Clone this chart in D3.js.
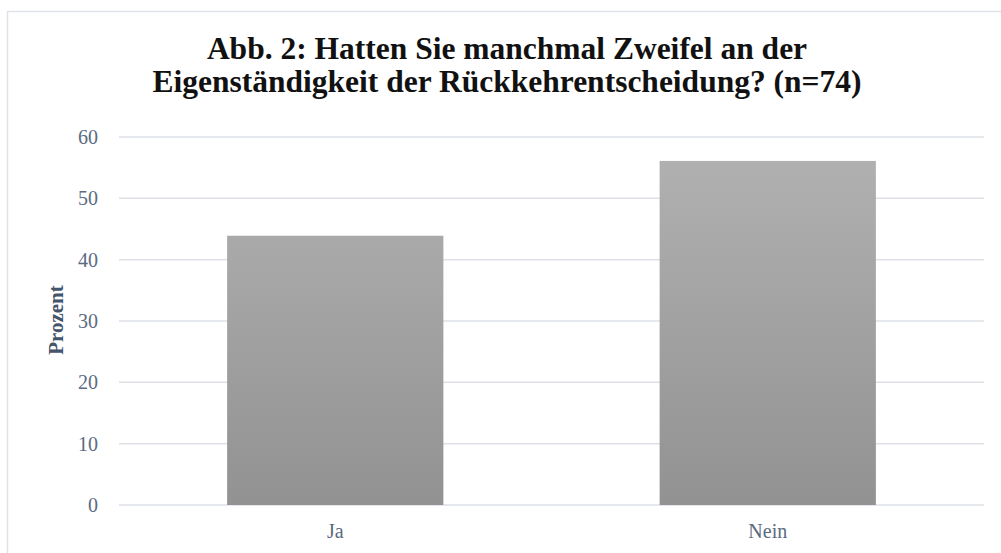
<!DOCTYPE html>
<html>
<head>
<meta charset="utf-8">
<script src="https://cdn.jsdelivr.net/npm/d3@7.9.0/dist/d3.min.js"></script>
<style>
  body { margin: 0; background: #fff; }
  svg { display: block; }
</style>
</head>
<body>
<div id="chart"></div>
<script>
// data
const categories = ['Ja', 'Nein'];
const values = [43.9, 56.1];
const yTicks = [0, 10, 20, 30, 40, 50, 60];
const titleLines = [
  'Abb. 2: Hatten Sie manchmal Zweifel an der',
  'Eigenständigkeit der Rückkehrentscheidung? (n=74)'
];
const yLabel = 'Prozent';

const width = 1001, height = 553;
const plot = { left: 119, right: 984, top: 137, bottom: 505 };
const serif = '"Liberation Serif", "DejaVu Serif", serif';

const svg = d3.select('#chart').append('svg')
  .attr('width', width)
  .attr('height', height);

// chart frame (runs past the right and bottom edge)
svg.append('rect')
  .attr('x', 7.5).attr('y', 11.5)
  .attr('width', 1000).attr('height', 560)
  .attr('fill', '#fff')
  .attr('stroke', '#dfe3e8')
  .attr('stroke-width', 1.5);

const x = d3.scaleBand()
  .domain(categories)
  .range([plot.left, plot.right])
  .paddingInner(0.5)
  .paddingOuter(0.25);

const y = d3.scaleLinear()
  .domain([0, 60])
  .range([plot.bottom, plot.top]);

const defs = svg.append('defs');
const grad = defs.append('linearGradient')
  .attr('id', 'barGrad')
  .attr('gradientUnits', 'userSpaceOnUse')
  .attr('x1', 0).attr('x2', 0)
  .attr('y1', y(56.1)).attr('y2', y(0));
grad.append('stop').attr('offset', 0).attr('stop-color', '#b0b0b0');
grad.append('stop').attr('offset', 1).attr('stop-color', '#929292');

// gridlines
svg.append('g')
  .selectAll('line')
  .data(yTicks)
  .join('line')
  .attr('x1', plot.left).attr('x2', plot.right)
  .attr('y1', d => y(d)).attr('y2', d => y(d))
  .attr('stroke', '#dde1e7')
  .attr('stroke-width', 1.5);

// y axis labels
const yAxis = d3.axisLeft(y).tickValues(yTicks).tickSize(0).tickPadding(0);
svg.append('g')
  .attr('transform', `translate(${plot.left - 21},0)`)
  .call(yAxis)
  .call(g => g.select('.domain').remove())
  .selectAll('text')
  .attr('font-family', serif)
  .attr('font-size', 20)
  .attr('fill', '#5a6b82');

// bars
svg.append('g')
  .selectAll('rect')
  .data(categories.map((c, i) => ({ c, v: values[i] })))
  .join('rect')
  .attr('x', d => x(d.c))
  .attr('width', x.bandwidth())
  .attr('y', d => y(d.v))
  .attr('height', d => y(0) - y(d.v))
  .attr('fill', 'url(#barGrad)');

// x axis labels
const xAxis = d3.axisBottom(x).tickSize(0).tickPadding(0);
svg.append('g')
  .attr('transform', `translate(0,${plot.bottom + 19})`)
  .call(xAxis)
  .call(g => g.select('.domain').remove())
  .selectAll('text')
  .attr('font-family', serif)
  .attr('font-size', 20)
  .attr('fill', '#5a6b82');

// y axis title
svg.append('text')
  .attr('transform', `translate(63,${(plot.top + plot.bottom) / 2 - 1}) rotate(-90)`)
  .attr('text-anchor', 'middle')
  .attr('font-family', serif)
  .attr('font-weight', 'bold')
  .attr('font-size', 21)
  .attr('fill', '#44546a')
  .text(yLabel);

// title
svg.append('text')
  .attr('text-anchor', 'middle')
  .attr('font-family', serif)
  .attr('font-weight', 'bold')
  .attr('font-size', 31.5)
  .attr('fill', '#111')
  .selectAll('tspan')
  .data(titleLines)
  .join('tspan')
  .attr('x', 507)
  .attr('y', (d, i) => 59 + i * 33)
  .text(d => d);
</script>
</body>
</html>
